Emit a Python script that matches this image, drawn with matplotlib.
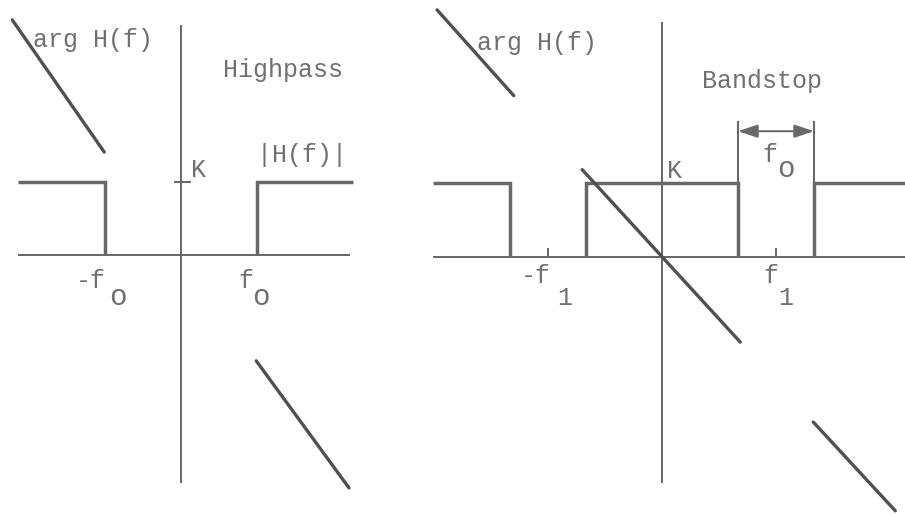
import matplotlib
matplotlib.use("Agg")
import matplotlib.pyplot as plt

W, H, DPI = 905, 515, 100

# ---------------- Highpass filter (f0 = 1, K = 1) ----------------
hp_K = 1.0
hp_f0 = 1.0
hp_haxis = (-2.14, 2.22)          # frequency axis extent
hp_vaxis = (3.15, -3.12)          # vertical axis extent
hp_mag_pieces = [
    ([-2.14, -1.0, -1.0], [1.0, 1.0, 0.0]),
    ([1.0, 1.0, 2.26], [0.0, 1.0, 1.0]),
]
hp_phase_pieces = [
    ([-2.22, -1.01], [3.22, 1.41]),
    ([0.99, 2.21], [-1.45, -3.19]),
]

# ---------------- Bandstop filter (f0 = width, f1 = centre) ----------------
bs_K = 1.0
bs_f0 = 1.0
bs_f1 = 1.5
bs_haxis = (-3.01, 3.2)
bs_vaxis = (3.18, -3.05)
bs_mag_pieces = [
    ([-3.01, -2.0, -2.0], [1.0, 1.0, 0.0]),
    ([-1.0, -1.0, 1.0, 1.0], [0.0, 1.0, 1.0, 0.0]),
    ([2.0, 2.0, 3.2], [0.0, 1.0, 1.0]),
]
bs_phase_pieces = [
    ([-2.96, -1.95], [3.34, 2.18]),
    ([-1.05, 1.03], [1.18, -1.15]),
    ([1.99, 3.07], [-2.23, -3.43]),
]

AXIS_C = "#666666"
LINE_C = "#686868"
PHASE_C = "#505050"
TEXT_C = "#707070"
FONT = "Liberation Mono"
FS = 18

plt.rcParams["mathtext.fontset"] = "custom"
plt.rcParams["mathtext.tt"] = FONT
plt.rcParams["mathtext.rm"] = FONT

fig = plt.figure(figsize=(W / DPI, H / DPI), dpi=DPI)
fig.patch.set_facecolor("white")


def panel(ox, oy, sx, sy):
    """Axes spanning the figure with data origin at pixel (ox, oy)."""
    ax = fig.add_axes([0, 0, 1, 1])
    ax.set_xlim(-ox / sx, (W - ox) / sx)
    ax.set_ylim(-(H - oy) / sy, oy / sy)
    ax.axis("off")
    ax.patch.set_alpha(0)
    return ax


def txt(ax, x, y, s, size=FS, ha="left"):
    ax.text(x, y, s, family=FONT, fontsize=size, color=TEXT_C,
            ha=ha, va="baseline")


def draw_common(ax, haxis, vaxis, mag_pieces, phase_pieces):
    ax.plot(haxis, [0, 0], color=AXIS_C, lw=1.4, solid_capstyle="butt")
    ax.plot([0, 0], vaxis, color=AXIS_C, lw=1.4, solid_capstyle="butt")
    for f, m in mag_pieces:
        ax.plot(f, m, color=LINE_C, lw=2.5, solid_joinstyle="miter",
                solid_capstyle="butt")
    for f, p in phase_pieces:
        ax.plot(f, p, color=PHASE_C, lw=2.4, solid_capstyle="round")


# ---- left panel: highpass ----
ax1 = panel(181, 255, 76, 73)
draw_common(ax1, hp_haxis, hp_vaxis, hp_mag_pieces, hp_phase_pieces)
ax1.plot([-0.08, 0.12], [hp_K, hp_K], color=AXIS_C, lw=1.4)
txt(ax1, -1.95, 2.85, "arg H(f)")
txt(ax1, 0.55, 2.44, "Highpass")
ax1.text(1.545, 1.27, r"$\left|\mathtt{H(f)}\right|$", fontsize=FS,
         color=TEXT_C, ha="center", va="baseline")
txt(ax1, 0.13, 1.07, "K")
txt(ax1, -1.38, -0.45, "-f")
txt(ax1, -0.95, -0.68, "o", size=21)
txt(ax1, 0.75, -0.45, "f")
txt(ax1, 0.93, -0.68, "o", size=21)

# ---- right panel: bandstop ----
ax2 = panel(662, 257, 76, 74)
draw_common(ax2, bs_haxis, bs_vaxis, bs_mag_pieces, bs_phase_pieces)
for f in (-bs_f1, bs_f1):
    ax2.plot([f, f], [0, 0.11], color=AXIS_C, lw=1.4)
# width marker for the stop band
edge_lo, edge_hi = bs_f1 - bs_f0 / 2, bs_f1 + bs_f0 / 2
for f in (edge_lo, edge_hi):
    ax2.plot([f, f], [bs_K, 1.83], color=LINE_C, lw=1.5)
ax2.annotate("", xy=(edge_lo, 1.70), xytext=(edge_hi, 1.70),
             arrowprops=dict(arrowstyle="<|-|>,head_length=0.6,head_width=0.2",
                             color=LINE_C, lw=1.4, shrinkA=0, shrinkB=0,
                             mutation_scale=20))
txt(ax2, -2.43, 2.80, "arg H(f)")
txt(ax2, 0.53, 2.28, "Bandstop")
txt(ax2, 0.07, 1.07, "K")
txt(ax2, -1.86, -0.35, "-f")
txt(ax2, -1.38, -0.65, "1")
txt(ax2, 1.33, -0.35, "f")
txt(ax2, 1.53, -0.65, "1")
txt(ax2, 1.32, 1.28, "f")
txt(ax2, 1.51, 1.08, "o", size=21)

fig.savefig("out.png", dpi=DPI, facecolor="white")
